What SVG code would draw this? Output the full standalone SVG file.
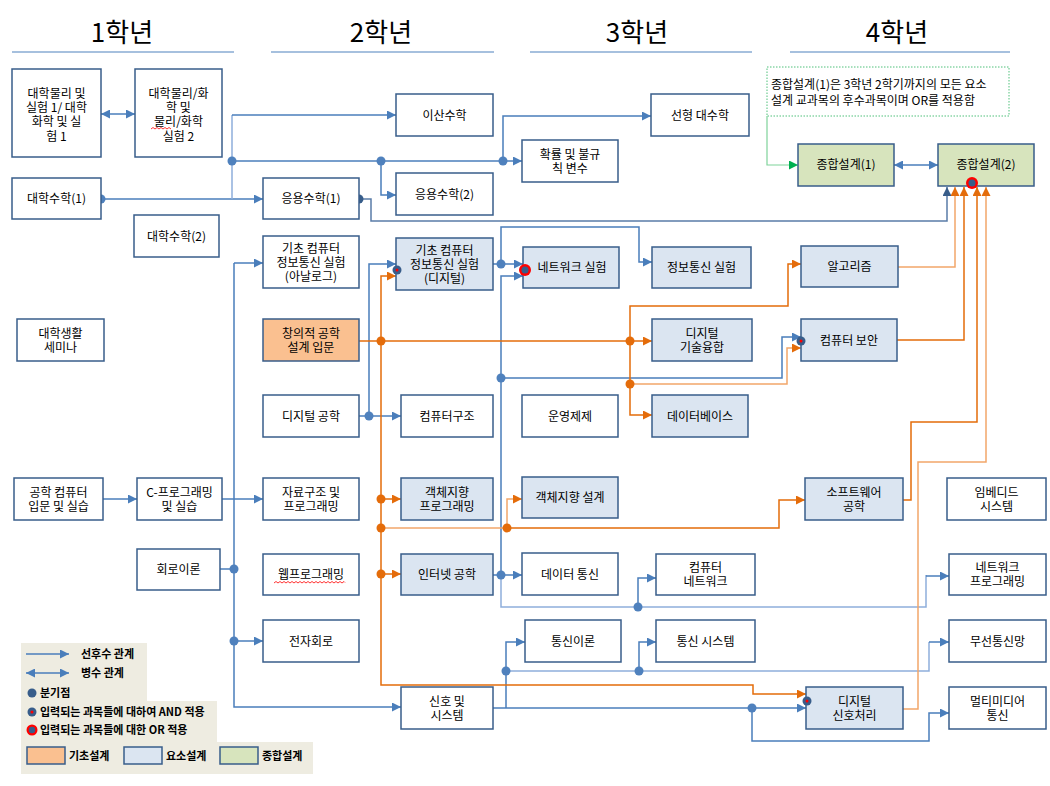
<svg xmlns="http://www.w3.org/2000/svg" width="1050" height="786" viewBox="0 0 1050 786">
<defs>
<style>
.b{fill:#fff;stroke:#385d8a;stroke-width:1.5}
.bo{fill:#fac090}
.bb{fill:#dbe5f1}
.bg{fill:#d7e4bd}
.c{fill:none;stroke:#4a7ebb;stroke-width:1.5}
.cl{stroke:#8eaedb}
.o{fill:none;stroke:#e46c0a;stroke-width:1.5}
.ol{stroke:#f2a66a}
.t{font-family:"Noto Sans CJK KR","Liberation Sans",sans-serif;font-size:12px;text-anchor:middle;fill:#000}
.h{font-family:"Noto Sans CJK KR","Liberation Sans",sans-serif;font-size:26px;text-anchor:middle;fill:#000}
.lg{font-family:"Noto Sans CJK KR","Liberation Sans",sans-serif;font-size:11px;font-weight:bold;fill:#000}
.nt{font-family:"Noto Sans CJK KR","Liberation Sans",sans-serif;font-size:12px;fill:#000}
.dot{fill:#4f81bd}
.dd{fill:#385d8a}
.od{fill:#e46c0a}
.hl{stroke:#4f81bd;stroke-width:1.2}
</style>
<marker id="ab" viewBox="0 0 10 10" refX="10" refY="5" markerWidth="9" markerHeight="9" markerUnits="userSpaceOnUse" orient="auto-start-reverse"><path d="M0,0 L10,5 L0,10 z" fill="#4a7ebb"/></marker>
<marker id="ad" viewBox="0 0 10 10" refX="10" refY="5" markerWidth="9" markerHeight="9" markerUnits="userSpaceOnUse" orient="auto-start-reverse"><path d="M0,0 L10,5 L0,10 z" fill="#385d8a"/></marker>
<marker id="ao" viewBox="0 0 10 10" refX="10" refY="5" markerWidth="9" markerHeight="9" markerUnits="userSpaceOnUse" orient="auto-start-reverse"><path d="M0,0 L10,5 L0,10 z" fill="#e46c0a"/></marker>
<marker id="ag" viewBox="0 0 10 10" refX="10" refY="5" markerWidth="9" markerHeight="9" markerUnits="userSpaceOnUse" orient="auto-start-reverse"><path d="M0,0 L10,5 L0,10 z" fill="#00b050"/></marker>
</defs>
<rect width="1050" height="786" fill="#fff"/>

<g id="headers">
<text class="h" x="122" y="42">1학년</text>
<text class="h" x="381" y="42">2학년</text>
<text class="h" x="637" y="42">3학년</text>
<text class="h" x="897" y="42">4학년</text>
<line class="hl" x1="12" y1="52" x2="234" y2="52"/>
<line class="hl" x1="271" y1="52" x2="494" y2="52"/>
<line class="hl" x1="530" y1="52" x2="752" y2="52"/>
<line class="hl" x1="790" y1="52" x2="1010" y2="52"/>
</g>

<g id="legend">
<path d="M21,643 H147 V701 H217 V742 H313 V774 H21 Z" fill="#eeece1"/>
<line class="c" x1="26" y1="654" x2="69" y2="654" marker-end="url(#ab)"/>
<text class="lg" x="81" y="658">선후수 관계</text>
<line class="c" x1="26" y1="673" x2="69" y2="673" marker-start="url(#ab)" marker-end="url(#ab)"/>
<text class="lg" x="81" y="677">병수 관계</text>
<circle class="dd" cx="32" cy="693" r="4.5"/>
<text class="lg" x="40" y="697">분기점</text>
<circle class="dd" cx="32" cy="712" r="4.5"/><circle cx="32" cy="712" r="1.5" fill="#f00"/>
<text class="lg" x="40" y="716">입력되는 과목들에 대하여 AND 적용</text>
<circle cx="32" cy="730" r="5.5" fill="#f00"/><circle class="dd" cx="32" cy="730" r="3.2"/>
<text class="lg" x="40" y="734">입력되는 과목들에 대한 OR 적용</text>
<rect class="b bo" x="27" y="747" width="38" height="17"/>
<text class="lg" x="69" y="760">기초설계</text>
<rect class="b bb" x="124" y="747" width="38" height="17"/>
<text class="lg" x="166" y="760">요소설계</text>
<rect class="b bg" x="220" y="747" width="38" height="17"/>
<text class="lg" x="262" y="760">종합설계</text>
</g>

<g id="note">
<rect x="767" y="67" width="242" height="49" fill="#fff" stroke="#4fc07a" stroke-width="1" stroke-dasharray="1.5,1.5"/>
<text class="nt" x="771" y="89">종합설계(1)은 3학년 2학기까지의 모든 요소</text>
<text class="nt" x="771" y="105">설계 교과목의 후수과목이며 OR를 적용함</text>
</g>

<g id="connectors">
<path class="c" d="M101,114 H135" marker-start="url(#ab)" marker-end="url(#ab)"/>
<path class="c" d="M101,199 H263" marker-end="url(#ab)"/>
<path class="c cl" d="M232,199 V115"/>
<path class="c" d="M232,115 H396" marker-end="url(#ab)"/>
<path class="c" d="M232,161 H522" marker-end="url(#ab)"/>
<path class="c" d="M381,161 V195 H396" marker-end="url(#ab)"/>
<path class="c" d="M503,161 V116 H651" marker-end="url(#ab)"/>
<path d="M359,199 H371 V221 H947 V187" fill="none" stroke="#5a7ca8" stroke-width="1.5" marker-end="url(#ad)"/>
<path class="c" d="M234,263 H263" marker-end="url(#ab)"/>
<path class="c" d="M234,263 V707 H401" marker-end="url(#ab)"/>
<path class="c" d="M220,569 H234"/>
<path class="c" d="M234,641 H263" marker-end="url(#ab)"/>
<path class="c" d="M103,499 H137" marker-end="url(#ab)"/>
<path class="c" d="M222,499 H263" marker-end="url(#ab)"/>
<path class="c" d="M359,416 H401" marker-end="url(#ab)"/>
<path class="c" d="M369,416 V264 H396" marker-end="url(#ab)"/>
<path class="c" d="M493,264 H523" marker-end="url(#ab)"/>
<path class="c" d="M501,264 V227 H639 V262 H652" marker-end="url(#ab)"/>
<path class="c" d="M493,575 H522" marker-end="url(#ab)"/>
<path class="c" d="M501,575 V276 H523" marker-end="url(#ab)"/>
<path class="c" d="M501,378 H782 V337 H801" marker-end="url(#ab)"/>
<path class="c cl" d="M501,575 V607 H926 V575"/>
<path class="c" d="M926,576 H949" marker-end="url(#ab)"/>
<path class="c" d="M638,607 V578 H656" marker-end="url(#ab)"/>
<path class="c" d="M493,708 H806" marker-end="url(#ab)"/>
<path class="c" d="M506,708 V642 H525" marker-end="url(#ab)"/>
<path class="c cl" d="M506,671 H929 V642"/>
<path class="c" d="M929,642 H949" marker-end="url(#ab)"/>
<path class="c" d="M639,671 V642 H656" marker-end="url(#ab)"/>
<path class="c" d="M752,708 V741 H929 V713 H949" marker-end="url(#ab)"/>
<path class="c" d="M894,165 H938" marker-start="url(#ab)" marker-end="url(#ab)"/>
<path d="M767,116 V165 H798" fill="none" stroke="#7fd39a" stroke-width="1.2" marker-end="url(#ag)"/>

<path class="o" d="M359,341 H652" marker-end="url(#ao)"/>
<path class="o" d="M630,341 V306 H788 V264 H801" marker-end="url(#ao)"/>
<path class="o" d="M630,341 V415 H652" marker-end="url(#ao)"/>
<path class="o ol" d="M630,384 H787 V348 H801" marker-end="url(#ao)"/>
<path class="o" d="M381,341 V276 H396" marker-end="url(#ao)"/>
<path class="o" d="M381,341 V685 H753 V694 H806" marker-end="url(#ao)"/>
<path class="o" d="M381,499 H401" marker-end="url(#ao)"/>
<path class="o" d="M381,574 H401" marker-end="url(#ao)"/>
<path class="o ol" d="M381,528 H507"/>
<path class="o ol" d="M507,528 V499 H522" marker-end="url(#ao)"/>
<path class="o" d="M507,528 H779 V500 H805" marker-end="url(#ao)"/>
<path class="o ol" d="M898,267 H955 V187" marker-end="url(#ao)"/>
<path class="o" d="M897,340 H964 V187" marker-end="url(#ao)"/>
<path class="o" d="M903,500 H911 V422 H977 V187" marker-end="url(#ao)"/>
<path class="o ol" d="M903,709 H918 V462 H986 V187" marker-end="url(#ao)"/>

<circle class="dot" cx="101" cy="199" r="4.5"/>
<circle class="dot" cx="232" cy="161" r="4.5"/>
<circle class="dot" cx="381" cy="161" r="4.5"/>
<circle class="dot" cx="503" cy="161" r="4.5"/>
<circle class="dd" cx="359" cy="199" r="4.5"/>
<circle class="dot" cx="234" cy="569" r="4.5"/>
<circle class="dot" cx="234" cy="641" r="4.5"/>
<circle class="dot" cx="369" cy="416" r="4.5"/>
<circle class="dot" cx="501" cy="264" r="4.5"/>
<circle class="dot" cx="501" cy="378" r="4.5"/>
<circle class="dot" cx="501" cy="575" r="4.5"/>
<circle class="dot" cx="638" cy="607" r="4.5"/>
<circle class="dot" cx="506" cy="671" r="4.5"/>
<circle class="dot" cx="639" cy="671" r="4.5"/>
<circle class="dot" cx="752" cy="708" r="4.5"/>
<circle class="od" cx="381" cy="341" r="4.5"/>
<circle class="od" cx="630" cy="341" r="4.5"/>
<circle class="od" cx="630" cy="384" r="4.5"/>
<circle class="od" cx="381" cy="499" r="4.5"/>
<circle class="od" cx="381" cy="528" r="4.5"/>
<circle class="od" cx="381" cy="574" r="4.5"/>
<circle class="od" cx="507" cy="528" r="4.5"/>
</g>

<g id="n1"><rect class="b" x="12" y="69" width="89" height="88"/><text class="t" x="56.5" y="97.5">대학물리 및</text><text class="t" x="56.5" y="111.5">실험 1/ 대학</text><text class="t" x="56.5" y="126">화학 및 실</text><text class="t" x="56.5" y="140.5">험 1</text></g>
<g id="n2"><rect class="b" x="135" y="69" width="87" height="88"/><text class="t" x="178.5" y="97.5">대학물리/화</text><text class="t" x="178.5" y="111.5">학 및</text><text class="t" x="178.5" y="126">물리/화학</text><text class="t" x="178.5" y="140.5">실험 2</text><path d="M151,129 l2,-1.5 l2,1.5 l2,-1.5 l2,1.5 l2,-1.5 l2,1.5 l2,-1.5 l2,1.5 l2,-1.5 l2,1.5" fill="none" stroke="#f00" stroke-width="0.8"/></g>
<g id="n3"><rect class="b" x="12" y="178" width="89" height="41"/><text class="t" x="56.5" y="203">대학수학(1)</text></g>
<g id="n4"><rect class="b" x="134" y="215" width="85" height="42"/><text class="t" x="176.5" y="240.5">대학수학(2)</text></g>
<g id="n5"><rect class="b" x="17" y="319" width="87" height="42"/><text class="t" x="60.5" y="337.5">대학생활</text><text class="t" x="60.5" y="351.5">세미나</text></g>
<g id="n6"><rect class="b" x="14" y="478" width="89" height="42"/><text class="t" x="58.5" y="496.5">공학 컴퓨터</text><text class="t" x="58.5" y="510.5">입문 및 실습</text></g>
<g id="n7"><rect class="b" x="137" y="478" width="85" height="42"/><text class="t" x="179.5" y="496.5">C-프로그래밍</text><text class="t" x="179.5" y="510.5">및 실습</text></g>
<g id="n8"><rect class="b" x="137" y="549" width="83" height="41"/><text class="t" x="178.5" y="574">회로이론</text></g>
<g id="n9"><rect class="b" x="263" y="178" width="96" height="41"/><text class="t" x="311" y="203">응용수학(1)</text></g>
<g id="n10"><rect class="b" x="263" y="236" width="96" height="52"/><text class="t" x="311" y="252.5">기초 컴퓨터</text><text class="t" x="311" y="266.5">정보통신 실험</text><text class="t" x="311" y="280.5">(아날로그)</text></g>
<g id="n11"><rect class="b bo" x="263" y="319" width="96" height="42"/><text class="t" x="311" y="337.5">창의적 공학</text><text class="t" x="311" y="351.5">설계 입문</text></g>
<g id="n12"><rect class="b" x="263" y="395" width="96" height="42"/><text class="t" x="311" y="420.5">디지털 공학</text></g>
<g id="n13"><rect class="b" x="263" y="478" width="96" height="42"/><text class="t" x="311" y="496.5">자료구조 및</text><text class="t" x="311" y="510.5">프로그래밍</text></g>
<g id="n14"><rect class="b" x="263" y="554" width="96" height="41"/><text class="t" x="311" y="579">웹프로그래밍</text><path d="M274,583 l2,-1.5 l2,1.5 l2,-1.5 l2,1.5 l2,-1.5 l2,1.5 l2,-1.5 l2,1.5 l2,-1.5 l2,1.5 l2,-1.5 l2,1.5 l2,-1.5 l2,1.5 l2,-1.5 l2,1.5 l2,-1.5 l2,1.5 l2,-1.5 l2,1.5 l2,-1.5 l2,1.5 l2,-1.5 l2,1.5 l2,-1.5 l2,1.5 l2,-1.5 l2,1.5 l2,-1.5 l2,1.5 l2,-1.5 l2,1.5 l2,-1.5 l2,1.5 l2,-1.5 l1,1" fill="none" stroke="#f00" stroke-width="0.8"/></g>
<g id="n15"><rect class="b" x="263" y="620" width="96" height="42"/><text class="t" x="311" y="645.5">전자회로</text></g>
<g id="n16"><rect class="b" x="396" y="94" width="97" height="42"/><text class="t" x="444.5" y="119.5">이산수학</text></g>
<g id="n17"><rect class="b" x="396" y="173" width="97" height="42"/><text class="t" x="444.5" y="198.5">응용수학(2)</text></g>
<g id="n18"><rect class="b bb" x="396" y="238" width="97" height="52"/><text class="t" x="444.5" y="254.5">기초 컴퓨터</text><text class="t" x="444.5" y="268.5">정보통신 실험</text><text class="t" x="444.5" y="282.5">(디지털)</text></g>
<g id="n19"><rect class="b" x="401" y="395" width="92" height="42"/><text class="t" x="447" y="420.5">컴퓨터구조</text></g>
<g id="n20"><rect class="b bb" x="401" y="478" width="92" height="42"/><text class="t" x="447" y="496.5">객체지향</text><text class="t" x="447" y="510.5">프로그래밍</text></g>
<g id="n21"><rect class="b bb" x="401" y="554" width="92" height="41"/><text class="t" x="447" y="579">인터넷 공학</text></g>
<g id="n22"><rect class="b" x="401" y="687" width="92" height="42"/><text class="t" x="447" y="705.5">신호 및</text><text class="t" x="447" y="719.5">시스템</text></g>
<g id="n23"><rect class="b" x="651" y="94" width="98" height="42"/><text class="t" x="700" y="119.5">선형 대수학</text></g>
<g id="n24"><rect class="b" x="522" y="140" width="96" height="42"/><text class="t" x="570" y="158.5">확률 및 불규</text><text class="t" x="570" y="172.5">칙 변수</text></g>
<g id="n25"><rect class="b bb" x="523" y="247" width="96" height="41"/><text class="t" x="572" y="272">네트워크 실험</text></g>
<g id="n26"><rect class="b bb" x="652" y="247" width="99" height="41"/><text class="t" x="701.5" y="272">정보통신 실험</text></g>
<g id="n27"><rect class="b bb" x="652" y="319" width="100" height="42"/><text class="t" x="702" y="337.5">디지털</text><text class="t" x="702" y="351.5">기술융합</text></g>
<g id="n28"><rect class="b" x="522" y="395" width="96" height="42"/><text class="t" x="570" y="420.5">운영제제</text></g>
<g id="n29"><rect class="b bb" x="652" y="395" width="96" height="42"/><text class="t" x="700" y="420.5">데이터베이스</text></g>
<g id="n30"><rect class="b bb" x="522" y="477" width="96" height="41"/><text class="t" x="570" y="502">객체지향 설계</text></g>
<g id="n31"><rect class="b" x="522" y="553" width="96" height="42"/><text class="t" x="570" y="578.5">데이터 통신</text></g>
<g id="n32"><rect class="b" x="656" y="554" width="99" height="41"/><text class="t" x="705.5" y="572">컴퓨터</text><text class="t" x="705.5" y="586">네트워크</text></g>
<g id="n33"><rect class="b" x="525" y="620" width="96" height="42"/><text class="t" x="573" y="645.5">통신이론</text></g>
<g id="n34"><rect class="b" x="656" y="620" width="99" height="42"/><text class="t" x="705.5" y="645.5">통신 시스템</text></g>
<g id="n35"><rect class="b bg" x="798" y="144" width="96" height="42"/><text class="t" x="846" y="169">종합설계(1)</text></g>
<g id="n36"><rect class="b bg" x="938" y="144" width="96" height="42"/><text class="t" x="986" y="169">종합설계(2)</text></g>
<g id="n37"><rect class="b bb" x="801" y="246" width="97" height="41"/><text class="t" x="849.5" y="271">알고리즘</text></g>
<g id="n38"><rect class="b bb" x="801" y="319" width="96" height="42"/><text class="t" x="849" y="344.5">컴퓨터 보안</text></g>
<g id="n39"><rect class="b bb" x="805" y="478" width="98" height="42"/><text class="t" x="854" y="496.5">소프트웨어</text><text class="t" x="854" y="510.5">공학</text></g>
<g id="n40"><rect class="b bb" x="806" y="687" width="97" height="42"/><text class="t" x="854.5" y="705.5">디지털</text><text class="t" x="854.5" y="719.5">신호처리</text></g>
<g id="n41"><rect class="b" x="947" y="478" width="99" height="42"/><text class="t" x="996.5" y="496.5">임베디드</text><text class="t" x="996.5" y="510.5">시스템</text></g>
<g id="n42"><rect class="b" x="949" y="554" width="97" height="41"/><text class="t" x="997.5" y="572">네트워크</text><text class="t" x="997.5" y="586">프로그래밍</text></g>
<g id="n43"><rect class="b" x="949" y="620" width="97" height="42"/><text class="t" x="997.5" y="645.5">무선통신망</text></g>
<g id="n44"><rect class="b" x="949" y="687" width="97" height="42"/><text class="t" x="997.5" y="705.5">멀티미디어</text><text class="t" x="997.5" y="719.5">통신</text></g>

<g id="junctions">
<circle class="dd" cx="397" cy="270" r="4.5"/><circle cx="397" cy="270" r="1.5" fill="#f00"/>
<circle class="dd" cx="801" cy="341" r="4.5"/><circle cx="801" cy="341" r="1.5" fill="#f00"/>
<circle class="dd" cx="807" cy="701" r="4.5"/><circle cx="807" cy="701" r="1.5" fill="#f00"/>
<circle cx="525" cy="270" r="6" fill="#f00"/><circle class="dd" cx="525" cy="270" r="3.5"/>
<circle cx="972" cy="183" r="6" fill="#f00"/><circle class="dd" cx="972" cy="183" r="3.5"/>
</g>
</svg>
